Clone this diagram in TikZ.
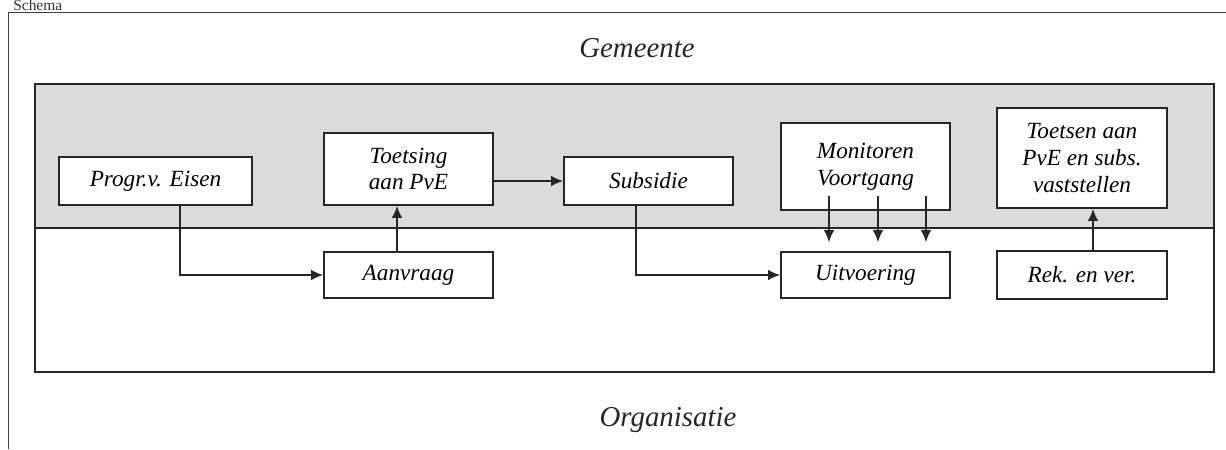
\documentclass[tikz,border=0pt]{standalone}
\usepackage{fontspec}
\setmainfont{Liberation Serif}
\usetikzlibrary{calc,arrows.meta}
\tikzset{
	stap/.style={draw=black!85, line width=1.3pt, fill=white, inner sep=0pt, font=\itshape\fontsize{16.5}{19}\selectfont, align=center},
	pijl/.style={line width=1pt, color=black!85, -{Latex[length=8.5pt, width=7.5pt]}},
	kop/.style={font=\itshape\fontsize{20.5}{24}\selectfont}
}

\begin{document}
\begin{tikzpicture}[x=0.025cm, y=-0.025cm]
		%%%%% START %%%%%
		\useasboundingbox (0, 0) rectangle (1226, 449);
		\clip (0, 0) rectangle (1226, 449);
		
		\node[anchor=base west, font=\fontsize{11}{13}\selectfont, color=black!80, inner sep=0pt] (schema) at (13, 10.5) {Schema};
		\draw[line width=0.6pt, color=black!75] (8, 449) -- (8, 12) -- (1226, 12);
		
		\node[kop, color=black!85] (gem) at (637, 48) {Gemeente};
		\node[kop, color=black!85] (org) at (668, 420) {Organisatie};
		
		\fill[black!14] (35, 84) rectangle (1214, 228);
		\draw[line width=1.3pt, color=black!85] (35, 84) rectangle (1214, 372);
		\draw[line width=1.3pt, color=black!85] (35, 228) -- (1214, 228);
		
		\node[stap, minimum width=4.825cm, minimum height=1.2cm] (prog) at (155.5, 181) {Progr.v. Eisen};
		\node[stap, minimum width=4.225cm, minimum height=1.8cm] (toets) at (408.5, 169) {Toetsing\\aan PvE};
		\node[stap, minimum width=4.225cm, minimum height=1.15cm] (aanvr) at (408.5, 275) {Aanvraag};
		\node[stap, minimum width=4.225cm, minimum height=1.2cm] (subs) at (648.5, 181) {Subsidie};
		\node[stap, minimum width=4.225cm, minimum height=2.175cm] (monit) at (865.5, 166.5) {Monitoren\\Voortgang};
		\node[stap, minimum width=4.225cm, minimum height=1.15cm] (uitv) at (865.5, 275) {Uitvoering};
		\node[stap, minimum width=4.25cm, minimum height=2.5cm] (toetsen) at (1082, 158) {Toetsen aan\\PvE en subs.\\vaststellen};
		\node[stap, minimum width=4.25cm, minimum height=1.2cm] (rek) at (1082, 275) {Rek. en ver.};
		
		\draw[pijl] ($(prog.south)+(24.5, 0)$) |- (aanvr.west);
		\draw[pijl] ($(aanvr.north)+(-11.5, 0)$) -- ($(toets.south)+(-11.5, 0)$);
		\draw[pijl] (toets.east |- subs) -- (subs.west);
		\draw[pijl] ($(subs.south)+(-12.5, 0)$) |- (uitv.west);
		\foreach \dx in {-36.5, 12.5, 60.5}
			\draw[pijl] ($(monit.south)+(\dx, -15)$) -- ($(uitv.north)+(\dx, -9)$);
		\draw[pijl] ($(rek.north)+(11, 0)$) -- ($(toetsen.south)+(11, 0)$);
		
		%%%%% END %%%%%
	\end{tikzpicture}
\end{document}
